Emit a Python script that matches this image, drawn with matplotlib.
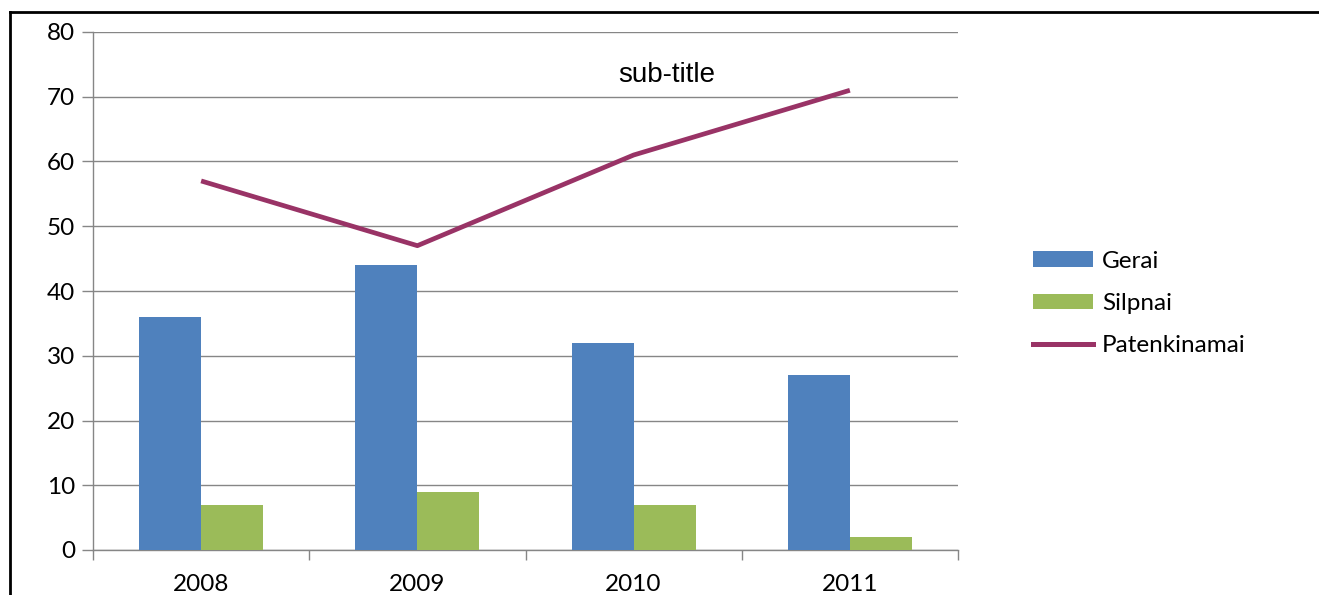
import matplotlib.pyplot as plt
from matplotlib.lines import Line2D
from matplotlib.patches import Patch

years = ["2008", "2009", "2010", "2011"]
gerai = [36, 44, 32, 27]
silpnai = [7, 9, 7, 2]
patenkinamai = [57, 47, 61, 71]

BLUE = "#4F81BD"
GREEN = "#9BBB59"
PURPLE = "#993366"
GRID = "#868686"

plt.rcParams["font.family"] = ["Lato", "DejaVu Sans"]

fig = plt.figure(figsize=(13.19, 5.95), dpi=100)
ax = fig.add_axes([93 / 1319, 45 / 595, 865 / 1319, 518 / 595])

x = list(range(len(years)))
w = 0.287
ax.bar([i - w / 2 for i in x], gerai, width=w, color=BLUE, zorder=3)
ax.bar([i + w / 2 for i in x], silpnai, width=w, color=GREEN, zorder=3)
ax.plot(x, patenkinamai, color=PURPLE, lw=3.4, zorder=4, solid_capstyle="butt")

ax.set_xlim(-0.5, 3.5)
ax.set_ylim(0, 80)
ax.set_yticks(range(0, 81, 10))
ax.yaxis.grid(True, color=GRID, lw=1)
ax.set_axisbelow(True)

ax.set_xticks(x)
ax.set_xticklabels(years)
ax.set_xticks([-0.5, 0.5, 1.5, 2.5, 3.5], minor=True)
ax.tick_params(axis="x", which="major", length=0, pad=17, labelsize=17.5)
ax.tick_params(axis="x", which="minor", length=7.5, color=GRID, width=1)
ax.tick_params(axis="y", length=8, color=GRID, width=1, pad=5, labelsize=17.5)

for s in ["top", "right"]:
    ax.spines[s].set_visible(False)
for s in ["left", "bottom"]:
    ax.spines[s].set_color(GRID)
    ax.spines[s].set_linewidth(1)

fig.text(667 / 1319, 1 - 75 / 595, "sub-title", ha="center", va="center",
         fontsize=20, family="Liberation Sans")

handles = [
    Patch(facecolor=BLUE, edgecolor="none"),
    Patch(facecolor=GREEN, edgecolor="none"),
    Line2D([0], [0], color=PURPLE, lw=3.6),
]
fig.legend(handles, ["Gerai", "Silpnai", "Patenkinamai"],
           loc="center left", bbox_to_anchor=(1033 / 1319, 1 - 303.5 / 595),
           frameon=False, fontsize=17.5, handlelength=2.47, handleheight=0.62,
           handletextpad=0.37, labelspacing=0.87, borderpad=0, borderaxespad=0)

# frame around the chart (top and left edges visible)
fig.add_artist(Line2D([10 / 1319, 1], [1 - 12 / 595, 1 - 12 / 595],
                      color="black", lw=2, transform=fig.transFigure))
fig.add_artist(Line2D([10 / 1319, 10 / 1319], [0, 1 - 12 / 595],
                      color="black", lw=2, transform=fig.transFigure))

fig.savefig("out.png", dpi=100)
